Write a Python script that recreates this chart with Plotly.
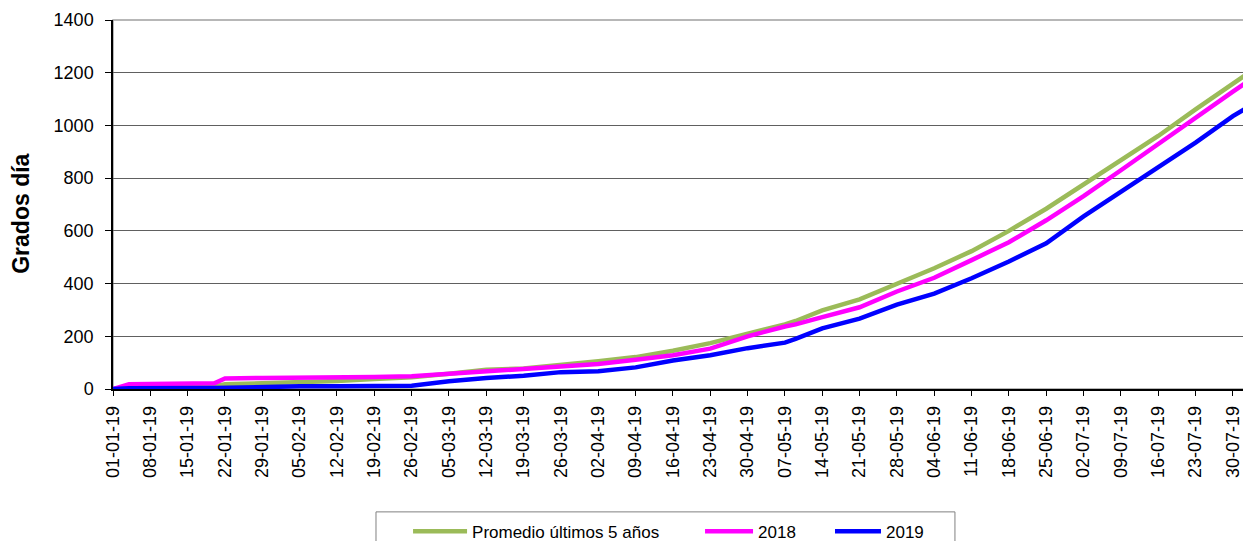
import plotly.graph_objects as go

dates = ["2019-01-01", "2019-01-04", "2019-01-20", "2019-01-22", "2019-01-29",
         "2019-02-05", "2019-02-12", "2019-02-19", "2019-02-26", "2019-03-05",
         "2019-03-12", "2019-03-19", "2019-03-26", "2019-04-02", "2019-04-09",
         "2019-04-16", "2019-04-23", "2019-04-30", "2019-05-07", "2019-05-09",
         "2019-05-14", "2019-05-21", "2019-05-28", "2019-06-04", "2019-06-11",
         "2019-06-18", "2019-06-25", "2019-07-02", "2019-07-09", "2019-07-16",
         "2019-07-23", "2019-07-30", "2019-08-02"]

promedio = [0, 5, 10, 18, 22, 25, 30, 38, 45, 58, 73, 78, 90, 105, 121, 145, 174, 208,
            245, 258, 298, 340, 400, 458, 523, 600, 684, 775, 868, 960, 1061, 1160, 1200]
y2018 = [0, 18, 22, 40, 42, 42, 42, 46, 48, 57, 70, 77, 86, 95, 111, 128, 153, 200,
         237, 245, 273, 310, 370, 422, 489, 557, 640, 732, 830, 930, 1033, 1128, 1170]
y2019 = [0, 3, 4, 5, 6, 10, 10, 11, 12, 29, 42, 50, 64, 67, 82, 108, 128, 155,
         176, 190, 230, 267, 320, 362, 420, 484, 553, 655, 748, 841, 935, 1035, 1072]

tick_dates = ["2019-01-01", "2019-01-08", "2019-01-15", "2019-01-22", "2019-01-29",
              "2019-02-05", "2019-02-12", "2019-02-19", "2019-02-26", "2019-03-05",
              "2019-03-12", "2019-03-19", "2019-03-26", "2019-04-02", "2019-04-09",
              "2019-04-16", "2019-04-23", "2019-04-30", "2019-05-07", "2019-05-14",
              "2019-05-21", "2019-05-28", "2019-06-04", "2019-06-11", "2019-06-18",
              "2019-06-25", "2019-07-02", "2019-07-09", "2019-07-16", "2019-07-23",
              "2019-07-30"]
y_ticks = [0, 200, 400, 600, 800, 1000, 1200, 1400]

font_family = "Liberation Sans, Arial, sans-serif"

fig = go.Figure()
fig.add_trace(go.Scatter(x=dates, y=promedio, mode="lines", name="Promedio últimos 5 años",
                         line=dict(color="#9BBB59", width=4.5), legend="legend"))
fig.add_trace(go.Scatter(x=dates, y=y2018, mode="lines", name="2018",
                         line=dict(color="#FF00FF", width=4.5), legend="legend2"))
fig.add_trace(go.Scatter(x=dates, y=y2019, mode="lines", name="2019",
                         line=dict(color="#0000FF", width=4.5), legend="legend3"))

# plot border (top / right in grey)
fig.add_shape(type="rect", xref="paper", yref="paper", x0=0, y0=0, x1=1, y1=1,
              line=dict(color="#a0a0a0", width=1.5), layer="below")
# legend frame (extends past bottom edge as in reference)
fig.add_shape(type="rect", xref="paper", yref="paper", x0=0.2313, x1=0.7405,
              y0=-0.48, y1=-0.333, line=dict(color="#808080", width=1), layer="below")

# y-axis title
fig.add_annotation(text="<b>Grados día</b>", xref="paper", yref="paper",
                   x=-0.0812, y=0.474, textangle=-90, showarrow=False,
                   xanchor="center", yanchor="middle", font=dict(size=23))

leg_common = dict(orientation="h", yanchor="top", y=-0.338, xanchor="left",
                  bgcolor="rgba(0,0,0,0)", borderwidth=0, font=dict(size=17))

fig.update_layout(
    width=1243, height=533,
    margin=dict(l=105, r=1, t=12, b=152, autoexpand=False),
    paper_bgcolor="white", plot_bgcolor="white",
    font=dict(family=font_family, color="black", size=16),
    showlegend=True,
    legend=dict(leg_common, x=0.2595, itemwidth=54),
    legend2=dict(leg_common, x=0.5163, itemwidth=48),
    legend3=dict(leg_common, x=0.6306, itemwidth=46),
    xaxis=dict(
        type="date",
        range=["2019-01-01", "2019-08-02 05:00"],
        tickvals=tick_dates, tickformat="%d-%m-%y", tickangle=-90,
        tickfont=dict(size=18),
        ticks="outside", ticklen=5, tickcolor="black",
        ticklabelstandoff=3,
        showline=True, linecolor="black", linewidth=1.5,
        showgrid=False, zeroline=False,
    ),
    yaxis=dict(
        range=[0, 1400], tickvals=y_ticks,
        tickfont=dict(size=18),
        ticks="outside", ticklen=6, tickcolor="black",
        showline=True, linecolor="black", linewidth=1.5,
        showgrid=True, gridcolor="#606060", gridwidth=1,
        zeroline=False,
        ticklabelstandoff=8,
    ),
)

fig.write_html("out.html")
